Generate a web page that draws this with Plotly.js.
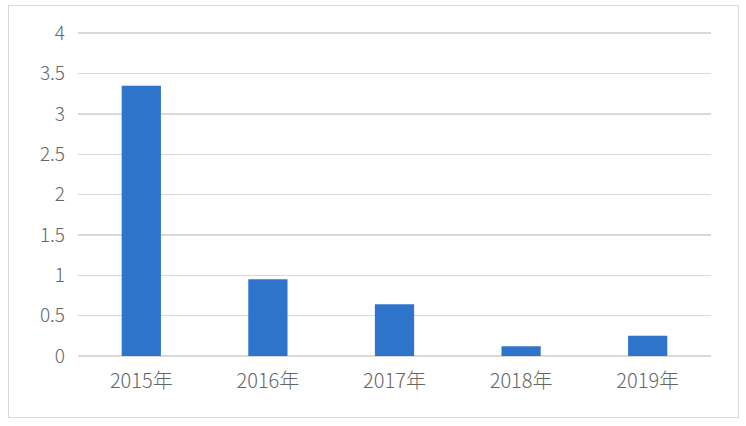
<!DOCTYPE html>
<html>
<head>
<meta charset="utf-8">
<script src="https://cdn.plot.ly/plotly-3.0.1.min.js"></script>
<style>
  body { margin: 0; background: #fff; }
  #wrap { position: relative; width: 746px; height: 426px; }
  #frame { position: absolute; left: 8px; top: 5px; width: 729px; height: 411px;
           border: 1.5px solid #d9d9d9; pointer-events: none; }
  #chart { width: 746px; height: 426px; }
</style>
</head>
<body>
<div id="wrap">
  <div id="chart"></div>
  <div id="frame"></div>
</div>
<script>
// years and values
let years = ['2015年', '2016年', '2017年', '2018年', '2019年'];
let values = [3.35, 0.95, 0.64, 0.12, 0.25];
let yTicks = [0, 0.5, 1, 1.5, 2, 2.5, 3, 3.5, 4];
let yTickText = ['0', '0.5', '1', '1.5', '2', '2.5', '3', '3.5', '4'];

let trace = {
    x: years,
    y: values,
    type: 'bar',
    width: 0.31,
    marker: { color: '#2E74CB' },
    hoverinfo: 'x+y'
};

let layout = {
    width: 746,
    height: 426,
    // little headroom above 4 so the top gridline is not clipped
    margin: { l: 78, r: 35, t: 30, b: 70 },
    paper_bgcolor: '#ffffff',
    plot_bgcolor: '#ffffff',
    showlegend: false,
    font: { family: '"Noto Sans CJK SC", "Noto Sans", sans-serif', color: '#666666' },
    xaxis: {
        type: 'category',
        showgrid: false,
        showline: false,
        zeroline: false,
        ticks: '',
        tickfont: { size: 20, color: '#666666', weight: 300 },
        ticklabelstandoff: 11
    },
    yaxis: {
        range: [0, 4.04],
        tickvals: yTicks,
        ticktext: yTickText,
        showgrid: true,
        gridcolor: '#d9d9d9',
        gridwidth: 1.5,
        zeroline: true,
        zerolinecolor: '#d9d9d9',
        zerolinewidth: 1.5,
        showline: false,
        ticks: '',
        tickfont: { size: 19, color: '#666666', weight: 300 },
        ticklabelstandoff: 12
    }
};

Plotly.newPlot('chart', [trace], layout, { displayModeBar: false, staticPlot: true });
</script>
</body>
</html>
